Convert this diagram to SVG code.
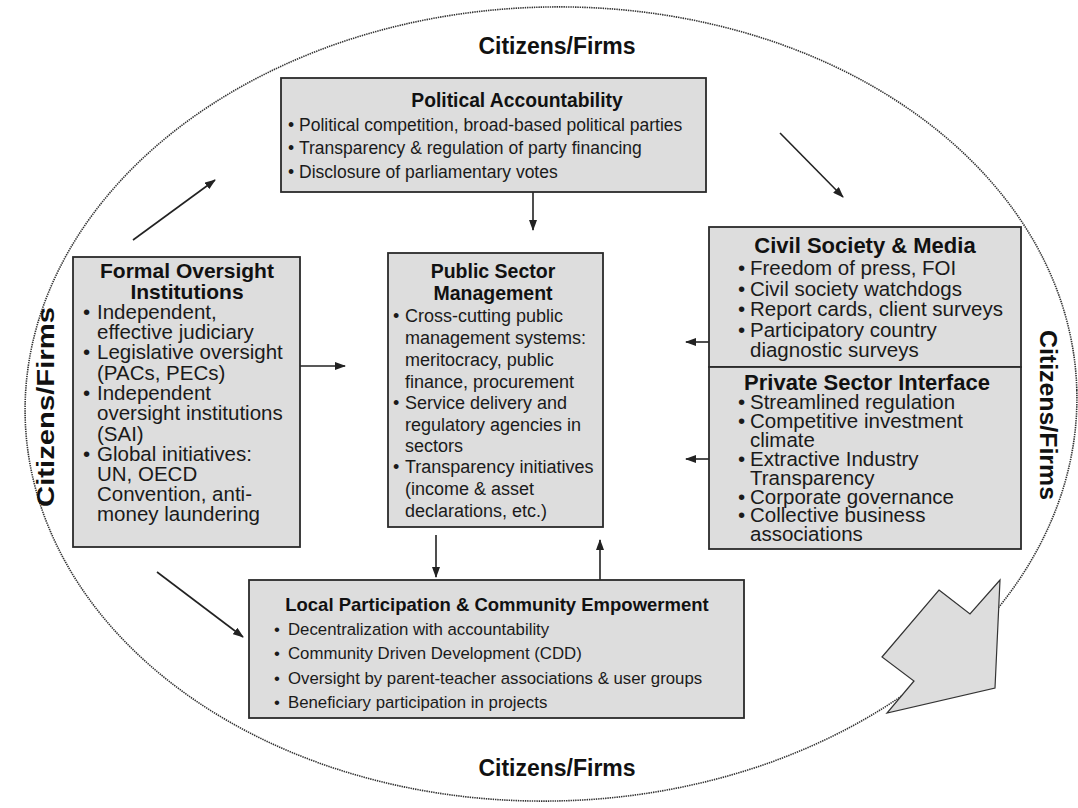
<svg xmlns="http://www.w3.org/2000/svg" width="1078" height="808" viewBox="0 0 1078 808">
<style>
.box{fill:#dddddd;stroke:#2a2a2a;stroke-width:1.8}
.t{font-family:"Liberation Sans",Arial,sans-serif;font-weight:bold;fill:#111;text-anchor:middle}
.b{font-family:"Liberation Sans",Arial,sans-serif;fill:#1a1a1a}
.cf{font-family:"Liberation Sans",Arial,sans-serif;font-weight:bold;font-size:23px;fill:#111;text-anchor:middle}
.con{stroke:#222;stroke-width:1.6;fill:none;marker-end:url(#ah)}
#political .b{font-size:17.5px}
#local .b{font-size:16.8px}
#political .t{font-size:19.3px}
#local .t{font-size:18.5px}
#formal .b{font-size:20.5px}
#formal .t{font-size:21px}
#psm .b{font-size:18px}
#psm .t{font-size:19.5px}
#civil .b,#private .b{font-size:20.5px}
#civil .t,#private .t{font-size:22px}
</style>
<defs>
<marker id="ah" markerWidth="11" markerHeight="8" refX="10" refY="4" orient="auto" markerUnits="userSpaceOnUse">
<path d="M0,0 L11,4 L0,8 z" fill="#222"/>
</marker>
</defs>
<rect width="1078" height="808" fill="#ffffff"/>
<g id="boundary">
<ellipse cx="551" cy="404" rx="526" ry="397" transform="rotate(-1.5 551 404)" fill="none" stroke="#333" stroke-width="1.6" stroke-dasharray="1.4 0.9"/>
<polygon points="939,590 970,614 1000,580 995,688 887,713 914,681 882,657" fill="#dddddd" stroke="#333" stroke-width="1.2"/>
<text class="cf" x="557" y="54">Citizens/Firms</text>
<text class="cf" x="557" y="776">Citizens/Firms</text>
<text class="cf" transform="translate(54 407) rotate(-90)" textLength="200" lengthAdjust="spacingAndGlyphs">Citizens/Firms</text>
<text class="cf" transform="translate(1040 415) rotate(90)" textLength="170" lengthAdjust="spacingAndGlyphs">Citizens/Firms</text>
</g>
<g id="connectors">
<line class="con" x1="533" y1="192" x2="533" y2="230"/>
<line class="con" x1="300" y1="366" x2="345" y2="366"/>
<line class="con" x1="709" y1="342" x2="686" y2="342"/>
<line class="con" x1="709" y1="459" x2="686" y2="459"/>
<line class="con" x1="436" y1="535" x2="436" y2="577"/>
<line class="con" x1="600" y1="580" x2="600" y2="540"/>
<line class="con" x1="133" y1="240" x2="215" y2="180"/>
<line class="con" x1="780" y1="133" x2="843" y2="197"/>
<line class="con" x1="157" y1="572" x2="243" y2="637"/>
</g>
<g id="political">
<rect class="box" x="281" y="78" width="425" height="114"/>
<text class="t" x="517" y="107">Political Accountability</text>
<text class="b" x="288" y="131">•</text><text class="b" x="299" y="131">Political competition, broad-based political parties</text>
<text class="b" x="288" y="154">•</text><text class="b" x="299" y="154">Transparency &amp; regulation of party financing</text>
<text class="b" x="288" y="178">•</text><text class="b" x="299" y="178">Disclosure of parliamentary votes</text>
</g>
<g id="formal">
<rect class="box" x="73" y="257" width="227" height="290"/>
<text class="t" x="187" y="278">Formal Oversight</text>
<text class="t" x="187" y="299">Institutions</text>
<text class="b" x="83" y="319">•</text><text class="b" x="97" y="319">Independent,</text>
<text class="b" x="97" y="339">effective judiciary</text>
<text class="b" x="83" y="359">•</text><text class="b" x="97" y="359">Legislative oversight</text>
<text class="b" x="97" y="380">(PACs, PECs)</text>
<text class="b" x="83" y="400">•</text><text class="b" x="97" y="400">Independent</text>
<text class="b" x="97" y="420">oversight institutions</text>
<text class="b" x="97" y="441">(SAI)</text>
<text class="b" x="83" y="461">•</text><text class="b" x="97" y="461">Global initiatives:</text>
<text class="b" x="97" y="481">UN, OECD</text>
<text class="b" x="97" y="501">Convention, anti-</text>
<text class="b" x="97" y="521">money laundering</text>
</g>
<g id="psm">
<rect class="box" x="388" y="253" width="215" height="274"/>
<text class="t" x="493" y="278">Public Sector</text>
<text class="t" x="493" y="300">Management</text>
<text class="b" x="393" y="322">•</text><text class="b" x="405" y="322">Cross-cutting public</text>
<text class="b" x="405" y="344">management systems:</text>
<text class="b" x="405" y="366">meritocracy, public</text>
<text class="b" x="405" y="388">finance, procurement</text>
<text class="b" x="393" y="409">•</text><text class="b" x="405" y="409">Service delivery and</text>
<text class="b" x="405" y="431">regulatory agencies in</text>
<text class="b" x="405" y="452">sectors</text>
<text class="b" x="393" y="473">•</text><text class="b" x="405" y="473">Transparency initiatives</text>
<text class="b" x="405" y="495">(income &amp; asset</text>
<text class="b" x="405" y="517">declarations, etc.)</text>
</g>
<g id="civil">
<rect class="box" x="709" y="227" width="312" height="140"/>
<text class="t" x="865" y="253">Civil Society &amp; Media</text>
<text class="b" x="738" y="275">•</text><text class="b" x="750" y="275">Freedom of press, FOI</text>
<text class="b" x="738" y="296">•</text><text class="b" x="750" y="296">Civil society watchdogs</text>
<text class="b" x="738" y="316">•</text><text class="b" x="750" y="316">Report cards, client surveys</text>
<text class="b" x="738" y="337">•</text><text class="b" x="750" y="337">Participatory country</text>
<text class="b" x="750" y="357">diagnostic surveys</text>
</g>
<g id="private">
<rect class="box" x="709" y="367" width="312" height="182"/>
<text class="t" x="867" y="390">Private Sector Interface</text>
<text class="b" x="738" y="409">•</text><text class="b" x="750" y="409">Streamlined regulation</text>
<text class="b" x="738" y="428">•</text><text class="b" x="750" y="428">Competitive investment</text>
<text class="b" x="750" y="447">climate</text>
<text class="b" x="738" y="466">•</text><text class="b" x="750" y="466">Extractive Industry</text>
<text class="b" x="750" y="485">Transparency</text>
<text class="b" x="738" y="504">•</text><text class="b" x="750" y="504">Corporate governance</text>
<text class="b" x="738" y="522">•</text><text class="b" x="750" y="522">Collective business</text>
<text class="b" x="750" y="541">associations</text>
</g>
<g id="local">
<rect class="box" x="249" y="580" width="495" height="138"/>
<text class="t" x="497" y="611">Local Participation &amp; Community Empowerment</text>
<text class="b" x="274" y="635">•</text><text class="b" x="288" y="635">Decentralization with accountability</text>
<text class="b" x="274" y="659">•</text><text class="b" x="288" y="659">Community Driven Development (CDD)</text>
<text class="b" x="274" y="684">•</text><text class="b" x="288" y="684">Oversight by parent-teacher associations &amp; user groups</text>
<text class="b" x="274" y="708">•</text><text class="b" x="288" y="708">Beneficiary participation in projects</text>
</g>
</svg>
